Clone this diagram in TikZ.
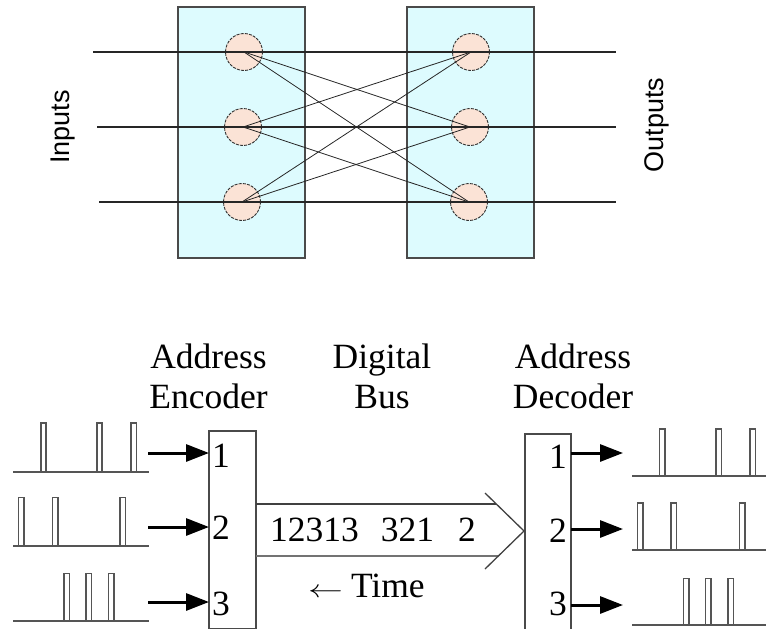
\documentclass[tikz,border=0pt]{standalone}
\usepackage{fontspec}
\usepackage{graphicx}
\setmainfont{Liberation Serif}
\newfontfamily\sansf{Liberation Sans}
\usetikzlibrary{arrows.meta}
\definecolor{boxfill}{HTML}{DDFBFE}
\definecolor{nodefill}{HTML}{FBE3D6}
\definecolor{edge}{HTML}{4A4A4A}
\definecolor{trace}{HTML}{555555}
\tikzset{
  panel/.style={draw=edge, line width=1.2pt, fill=boxfill, rectangle, inner sep=0pt, outer sep=0pt, anchor=north west},
  junction/.style={draw=black!80, dash pattern=on 3pt off 1.2pt, line width=0.9pt, fill=nodefill, circle, minimum size=37pt, inner sep=0pt},
  wire/.style={draw=black!85, line width=1.1pt},
  cross/.style={draw=black!85, line width=0.8pt},
  sidelabel/.style={font=\sansf\fontsize{27}{30}\selectfont, rotate=90, anchor=base, inner sep=0pt},
  header/.style={font=\fontsize{35.5}{40}\selectfont, align=center, anchor=base, inner sep=0pt},
  coder/.style={draw=edge, line width=1.3pt, fill=white, rectangle, inner sep=0pt, outer sep=0pt, anchor=north west},
  digit/.style={font=\fontsize{35.5}{40}\selectfont, inner sep=0pt},
  bigarrow/.style={draw=black, line width=3pt, -{Triangle[length=23pt, width=17pt]}},
  pulse/.style={draw=trace, line width=1.1pt},
  baseline/.style={draw=trace, line width=1.6pt},
  bus/.style={draw=black!75, line width=1.3pt},
}
\newcommand{\pulseat}[4]{\draw[pulse] (#1,#3) -- (#1,#4) -- (#2,#4) -- (#2,#3);}
\begin{document}
\begin{tikzpicture}[x=1pt, y=-1pt]
\useasboundingbox (0,0) rectangle (766,629);

% ---------- top diagram ----------
\node[panel, minimum width=127pt, minimum height=251pt] (lbox) at (178,7) {};
\node[panel, minimum width=127pt, minimum height=251pt] (rbox) at (407,7) {};

\node[junction] (l1) at (244,52) {};
\node[junction] (l2) at (243,127) {};
\node[junction] (l3) at (242,202) {};
\node[junction] (r1) at (471,52) {};
\node[junction] (r2) at (470,127) {};
\node[junction] (r3) at (469,202) {};

\coordinate (in1) at (93,52);
\coordinate (in2) at (97,127);
\coordinate (in3) at (99,202);
\coordinate (out1) at (616,52);
\coordinate (out2) at (616,127);
\coordinate (out3) at (616,202);

\draw[wire] (in1) -- (out1);
\draw[wire] (in2) -- (out2);
\draw[wire] (in3) -- (out3);

\draw[cross] (l1.center) -- (r2.center);
\draw[cross] (l1.center) -- (r3.center);
\draw[cross] (l2.center) -- (r1.center);
\draw[cross] (l2.center) -- (r3.center);
\draw[cross] (l3.center) -- (r1.center);
\draw[cross] (l3.center) -- (r2.center);

\node[sidelabel] (inputs) at (69,127) {Inputs};
\node[sidelabel] (outputs) at (663,125) {Outputs};

% ---------- bottom diagram ----------
\node[header] (hencoder) at (208.5,408) {Address\\Encoder};
\node[header] (hbus) at (382,408) {Digital\\Bus};
\node[header] (hdecoder) at (573,408) {Address\\Decoder};

\node[coder, minimum width=47pt, minimum height=198pt] (enc) at (209,431) {};
\node[coder, minimum width=46pt, minimum height=196pt] (dec) at (525,434) {};

\node[digit, anchor=base west] (e1) at (212,467) {1};
\node[digit, anchor=base west] (e2) at (212,539) {2};
\node[digit, anchor=base west] (e3) at (212,615) {3};
\node[digit, anchor=base east] (d1) at (567,468) {1};
\node[digit, anchor=base east] (d2) at (567,542) {2};
\node[digit, anchor=base east] (d3) at (567,615) {3};

% input arrows
\coordinate (ain1) at (148,453);
\coordinate (ain2) at (148,527);
\coordinate (ain3) at (148,602);
\draw[bigarrow] (ain1) -- (ain1 -| enc.west);
\draw[bigarrow] (ain2) -- (ain2 -| enc.west);
\draw[bigarrow] (ain3) -- (ain3 -| enc.west);
% output arrows
\coordinate (aout1) at (623,453);
\coordinate (aout2) at (623,529);
\coordinate (aout3) at (623,605);
\draw[bigarrow] (aout1 -| dec.east) -- (aout1);
\draw[bigarrow] (aout2 -| dec.east) -- (aout2);
\draw[bigarrow] (aout3 -| dec.east) -- (aout3);

% bus
\coordinate (bustop) at (496,504);
\coordinate (busbot) at (498,556);
\coordinate (chevA) at (485,493);
\coordinate (chevtip) at (524,531);
\coordinate (chevB) at (485,569);
\draw[bus] (bustop -| enc.east) -- (bustop);
\draw[bus, draw=black!55] (busbot -| enc.east) -- (busbot);
\draw[bus] (chevA) -- (chevtip) -- (chevB);
\node[digit, anchor=base west] (busdata) at (270,541) {12313\hspace{22pt}321\hspace{24pt}2};
\node[digit, anchor=base west] (time) at (308,597) {\scalebox{1.4}[1]{$\leftarrow$}\hspace{8pt}Time};

% input traces
\draw[baseline] (13,472) -- (149,472);
\pulseat{41}{46}{472}{423}
\pulseat{97}{102}{472}{423}
\pulseat{131}{136.5}{472}{423}
\draw[baseline] (13,546) -- (149,546);
\pulseat{18.5}{24}{546}{497.5}
\pulseat{52.5}{58}{546}{497.5}
\pulseat{120}{125.5}{546}{497.5}
\draw[baseline] (13,621) -- (149,621);
\pulseat{64}{69.5}{621}{573.5}
\pulseat{86}{91.5}{621}{573.5}
\pulseat{108.5}{114}{621}{573.5}

% output traces
\draw[baseline] (632,476) -- (766,476);
\pulseat{659.5}{665}{476}{429}
\pulseat{716}{721.5}{476}{429}
\pulseat{750}{755.5}{476}{429}
\draw[baseline] (632,550) -- (766,550);
\pulseat{637.5}{643}{550}{503}
\pulseat{671}{676.5}{550}{503}
\pulseat{739.5}{745}{550}{503}
\draw[baseline] (632,625) -- (766,625);
\pulseat{683.5}{689}{625}{578.5}
\pulseat{705.5}{711}{625}{578.5}
\pulseat{728}{733.5}{625}{578.5}
\end{tikzpicture}
\end{document}
